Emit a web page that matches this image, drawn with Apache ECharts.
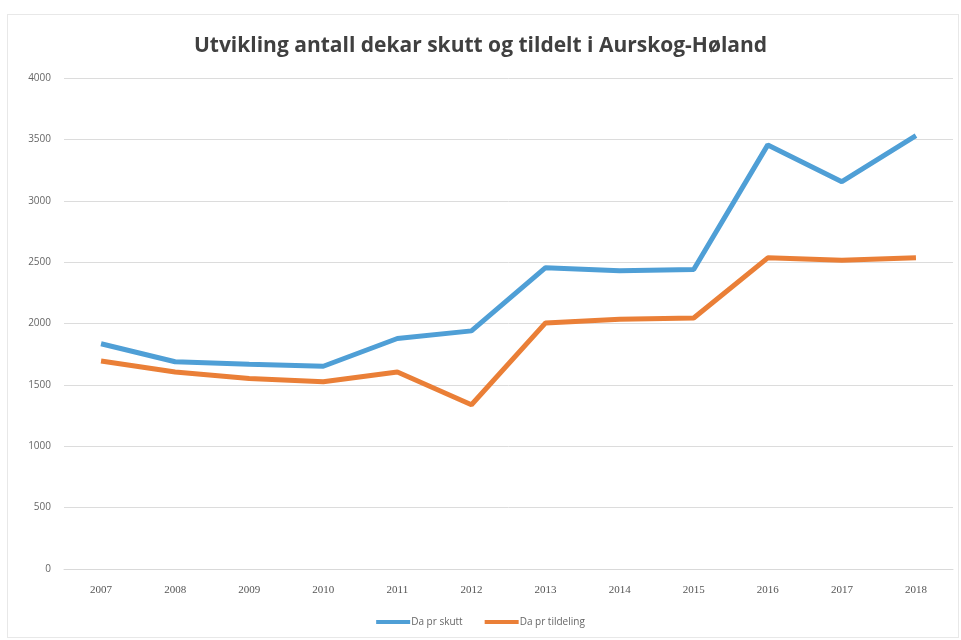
<!DOCTYPE html>
<html>
<head>
<meta charset="utf-8">
<script src="https://cdn.jsdelivr.net/npm/echarts@6/dist/echarts.min.js"></script>
<style>
  html, body { margin: 0; padding: 0; background: #fff; }
  #chart { width: 961px; height: 640px; }
  #frame { position: absolute; left: 7px; top: 14px; width: 950px; height: 622px; border: 1px solid #e8e8e8; pointer-events: none; }
</style>
</head>
<body>
<div id="chart"></div>
<div id="frame"></div>
<script>
const years = ['2007', '2008', '2009', '2010', '2011', '2012', '2013', '2014', '2015', '2016', '2017', '2018'];
const skutt = [1835, 1688, 1668, 1652, 1878, 1940, 2455, 2430, 2440, 3455, 3155, 3530];
const tildeling = [1695, 1605, 1552, 1525, 1605, 1338, 2005, 2035, 2045, 2535, 2515, 2535];

const chart = echarts.init(document.getElementById('chart'));

const option = {
  backgroundColor: '#fff',
  animation: false,
  title: {
    text: 'Utvikling antall dekar skutt og tildelt i Aurskog-Høland',
    left: 'center',
    top: 31,
    textStyle: {
      fontFamily: 'Open Sans',
      fontWeight: 'bold',
      fontSize: 21,
      color: '#404040',
    },
  },
  legend: {
    bottom: 8,
    left: 'center',
    itemWidth: 34,
    itemHeight: 4,
    itemGap: 22,
    icon: 'rect',
    textStyle: {
      fontFamily: 'Open Sans',
      fontSize: 10,
      color: '#666',
      padding: [0, 0, 0, -4],
    },
    data: ['Da pr skutt', 'Da pr tildeling'],
  },
  grid: {
    left: 64,
    right: 8,
    top: 78,
    bottom: 71,
    containLabel: false,
  },
  xAxis: {
    type: 'category',
    boundaryGap: true,
    data: years,
    axisLine: { lineStyle: { color: '#d9d9d9' } },
    axisTick: { show: false },
    axisLabel: {
      margin: 16,
      fontFamily: 'Liberation Serif',
      fontSize: 11,
      color: '#555',
    },
  },
  yAxis: {
    type: 'value',
    min: 0,
    max: 4000,
    interval: 500,
    axisLine: { show: false },
    axisTick: { show: false },
    axisLabel: {
      margin: 13,
      fontFamily: 'Open Sans',
      fontSize: 10,
      color: '#666',
      formatter: v => String(v),
    },
    splitLine: { lineStyle: { color: '#dcdcdc' } },
  },
  series: [
    {
      name: 'Da pr skutt',
      type: 'line',
      data: skutt,
      showSymbol: false,
      lineStyle: { width: 5, color: '#4f9fd6' },
      itemStyle: { color: '#4f9fd6' },
    },
    {
      name: 'Da pr tildeling',
      type: 'line',
      data: tildeling,
      showSymbol: false,
      lineStyle: { width: 5, color: '#ea7f37' },
      itemStyle: { color: '#ea7f37' },
    },
  ],
};

chart.setOption(option);
</script>
</body>
</html>
